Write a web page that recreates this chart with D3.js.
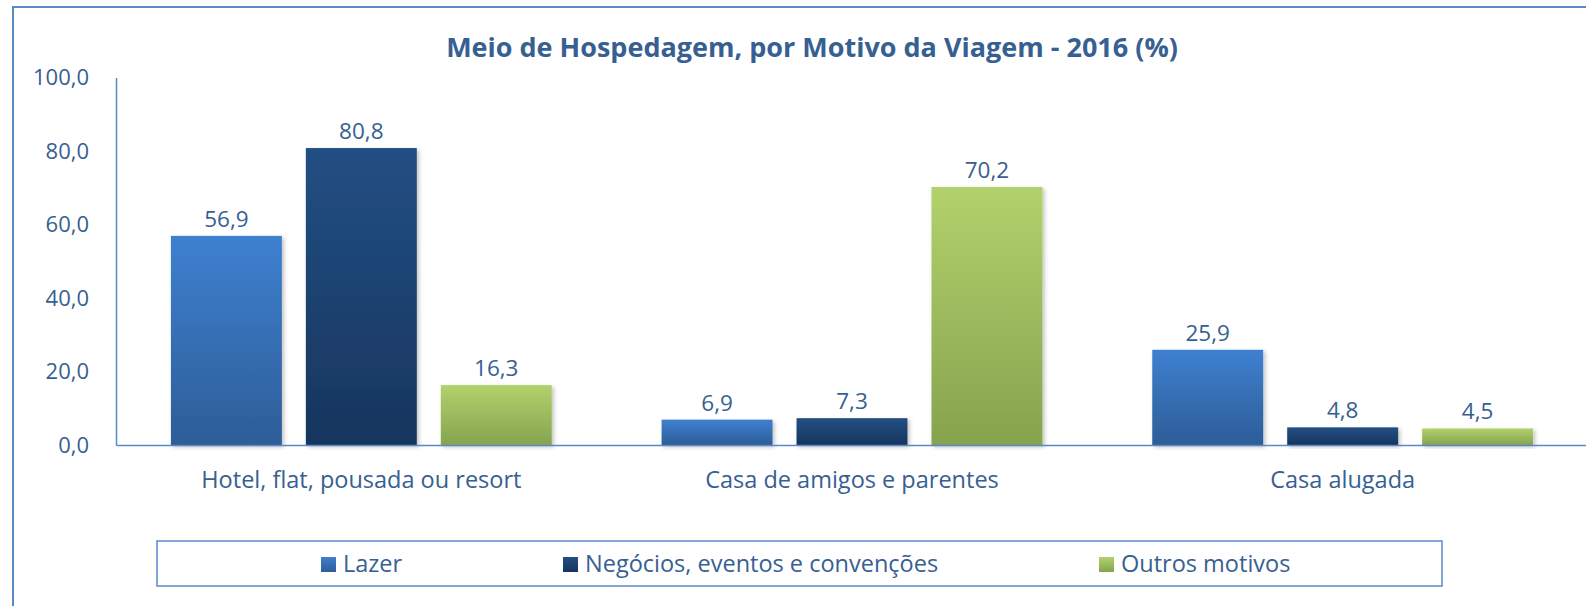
<!DOCTYPE html>
<html>
<head>
<meta charset="utf-8">
<script src="https://cdn.jsdelivr.net/npm/d3@7"></script>
<style>
  body { margin: 0; background: #fff; }
  svg { display: block; font-family: "Open Sans", sans-serif; }
</style>
</head>
<body>
<svg width="1586" height="606"></svg>
<script>
// data
var categories = ["Hotel, flat, pousada ou resort", "Casa de amigos e parentes", "Casa alugada"];
var series = ["Lazer", "Negócios, eventos e convenções", "Outros motivos"];
var lazer = [56.9, 6.9, 25.9];
var negocios = [80.8, 7.3, 4.8];
var outros = [16.3, 70.2, 4.5];
var yTicks = [0, 20, 40, 60, 80, 100];
var title = "Meio de Hospedagem, por Motivo da Viagem - 2016 (%)";

var values = [lazer, negocios, outros];
var gradients = [
  ["#3e80d0", "#2d5d97"],
  ["#224f83", "#17355d"],
  ["#b1d26c", "#86a34e"]
];
var textColor = "#376092";
var lineColor = "#5a8ac6";

var svg = d3.select("svg");
const width = +svg.attr("width");
const height = +svg.attr("height");

var locale = d3.formatLocale({ decimal: ",", thousands: ".", grouping: [3], currency: ["R$", ""] });
var fmt = locale.format(".1f");

var defs = svg.append("defs");
gradients.forEach(function (g, i) {
  var lg = defs.append("linearGradient")
    .attr("id", "grad" + i)
    .attr("x1", 0).attr("y1", 0).attr("x2", 0).attr("y2", 1);
  lg.append("stop").attr("offset", "0%").attr("stop-color", g[0]);
  lg.append("stop").attr("offset", "100%").attr("stop-color", g[1]);
});
var shadow = defs.append("filter").attr("id", "shadow")
  .attr("x", "-10%").attr("y", "-10%").attr("width", "130%").attr("height", "130%");
shadow.append("feDropShadow")
  .attr("dx", 2).attr("dy", 2).attr("stdDeviation", 2)
  .attr("flood-color", "#000").attr("flood-opacity", 0.25);

// outer chart border (right and bottom are cut off)
svg.append("rect")
  .attr("x", 13).attr("y", 7)
  .attr("width", 1700).attr("height", 800)
  .attr("fill", "none")
  .attr("stroke", lineColor)
  .attr("stroke-width", 2);

// title
svg.append("text")
  .attr("x", 812).attr("y", 57)
  .attr("text-anchor", "middle")
  .attr("fill", textColor)
  .attr("font-weight", "bold")
  .attr("font-size", 27)
  .text(title);

var x0 = d3.scaleBand().domain(categories).range([116, 1588]);
var x1 = d3.scaleBand().domain(series).range([0, x0.bandwidth()])
  .paddingInner(0.178).paddingOuter(0.407);
var y = d3.scaleLinear().domain([0, 100]).range([445, 77.5]);

// y axis
var yAxis = svg.append("g")
  .attr("transform", "translate(116,0)")
  .call(d3.axisLeft(y).tickValues(yTicks).tickFormat(fmt).tickSize(0).tickPadding(27));
yAxis.select(".domain").attr("stroke", lineColor).attr("stroke-width", 1.5);
yAxis.selectAll("text")
  .attr("fill", textColor)
  .attr("font-size", 22)
  .attr("font-family", "Open Sans, sans-serif");

// bars
var groups = svg.append("g").selectAll("g")
  .data(categories)
  .join("g")
  .attr("transform", function (d) { return "translate(" + x0(d) + ",0)"; });

groups.selectAll("rect")
  .data(function (d, ci) {
    return series.map(function (s, si) { return { s: s, si: si, v: values[si][ci] }; });
  })
  .join("rect")
  .attr("x", function (d) { return x1(d.s); })
  .attr("y", function (d) { return y(d.v); })
  .attr("width", x1.bandwidth())
  .attr("height", function (d) { return y(0) - y(d.v); })
  .attr("fill", function (d) { return "url(#grad" + d.si + ")"; })
  .attr("filter", "url(#shadow)");

groups.selectAll("text")
  .data(function (d, ci) {
    return series.map(function (s, si) { return { s: s, v: values[si][ci] }; });
  })
  .join("text")
  .attr("x", function (d) { return x1(d.s) + x1.bandwidth() / 2; })
  .attr("y", function (d) { return y(d.v) - 9; })
  .attr("text-anchor", "middle")
  .attr("fill", textColor)
  .attr("font-size", 22.5)
  .text(function (d) { return fmt(d.v); });

// x axis
var xAxis = svg.append("g")
  .attr("transform", "translate(0,445)")
  .call(d3.axisBottom(x0).tickSize(0).tickPadding(26));
xAxis.select(".domain").attr("stroke", lineColor).attr("stroke-width", 1.5);
xAxis.selectAll("text")
  .attr("fill", textColor)
  .attr("font-size", 23.5)
  .attr("font-family", "Open Sans, sans-serif");

// legend
svg.append("rect")
  .attr("x", 157).attr("y", 541)
  .attr("width", 1285).attr("height", 45)
  .attr("fill", "none")
  .attr("stroke", lineColor)
  .attr("stroke-width", 1.5);

var legendX = [321, 563, 1099];
var legend = svg.append("g").selectAll("g")
  .data(series)
  .join("g")
  .attr("transform", function (d, i) { return "translate(" + legendX[i] + ",557)"; });
legend.append("rect")
  .attr("width", 15).attr("height", 15)
  .attr("fill", function (d, i) { return "url(#grad" + i + ")"; });
legend.append("text")
  .attr("x", 22).attr("y", 15)
  .attr("fill", textColor)
  .attr("font-size", 23.5)
  .text(function (d) { return d; });
</script>
</body>
</html>
